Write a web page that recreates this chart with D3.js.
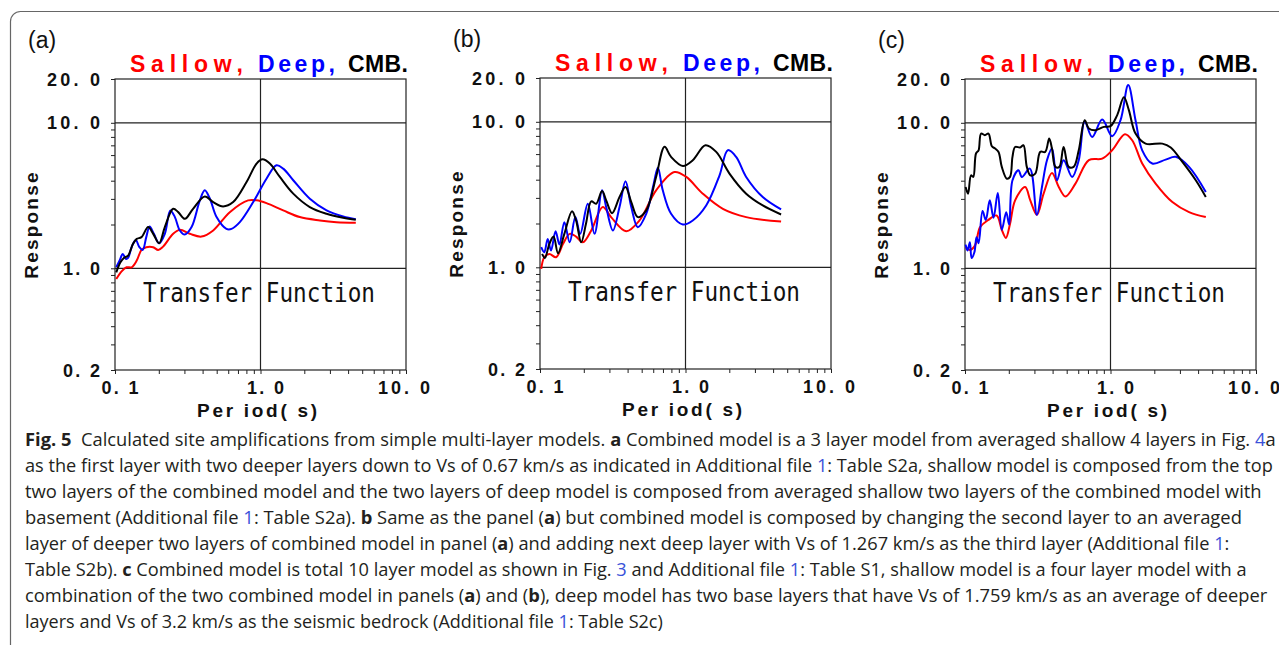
<!DOCTYPE html>
<html>
<head>
<meta charset="utf-8">
<script src="https://cdn.jsdelivr.net/npm/d3@7"></script>
<style>
  body { margin: 0; background: #fff; }
  svg { display: block; }
</style>
</head>
<body>
<svg id="chart" width="1279" height="645"></svg>
<script>
// ---- data (period in s, response ratio) ----
// panel (a)
var aShallowPeriod = [0.102,0.111,0.120,0.130,0.141,0.152,0.164,0.183,0.198,0.214,0.251,0.279,0.327,0.393,0.473,0.615,0.822,0.940,1.099,1.432,1.862,2.559,3.327,4.519];
var aShallowResp   = [0.843,0.953,1.016,1.016,1.130,1.337,1.396,1.396,1.337,1.409,1.726,1.837,1.726,1.652,1.820,2.432,2.931,2.931,2.805,2.500,2.249,2.133,2.075,2.056];
var aDeepPeriod = [0.102,0.108,0.113,0.119,0.123,0.130,0.139,0.147,0.155,0.164,0.173,0.185,0.201,0.220,0.240,0.258,0.279,0.302,0.336,0.383,0.414,0.449,0.499,0.583,0.632,0.721,0.891,1.099,1.288,1.432,1.679,2.183,2.844,3.698,4.519];
var aDeepResp   = [1.016,1.140,1.256,1.159,1.178,1.396,1.567,1.396,1.337,1.637,1.936,1.726,1.486,1.726,2.500,2.249,1.820,1.706,1.919,2.931,3.436,3.006,2.249,1.866,1.866,2.075,2.851,4.130,5.105,4.842,4.027,3.006,2.500,2.270,2.178];
var aCmbPeriod = [0.102,0.109,0.115,0.123,0.133,0.141,0.152,0.169,0.183,0.201,0.220,0.251,0.272,0.302,0.344,0.414,0.473,0.553,0.649,0.802,0.940,1.033,1.159,1.358,1.679,2.183,2.844,3.698,4.519];
var aCmbResp   = [0.938,1.099,1.178,1.222,1.472,1.592,1.637,1.919,1.726,1.486,1.919,2.564,2.432,2.188,2.564,3.119,2.851,2.661,2.851,3.917,5.248,5.610,5.248,4.246,3.258,2.636,2.371,2.223,2.153];

// panel (b)
var bShallowPeriod = [0.102,0.107,0.116,0.129,0.144,0.160,0.177,0.197,0.225,0.270,0.308,0.391,0.483,0.628,0.839,1.012,1.315,1.807,2.612,4.539];
var bShallowResp   = [0.975,1.172,1.236,1.172,1.449,1.698,1.626,1.486,1.791,2.594,2.213,1.770,2.099,3.381,4.519,4.178,3.206,2.523,2.213,2.065];
var bDeepPeriod = [0.102,0.107,0.113,0.119,0.128,0.136,0.147,0.160,0.175,0.189,0.213,0.237,0.267,0.285,0.317,0.352,0.387,0.424,0.470,0.537,0.605,0.646,0.698,0.796,0.959,1.122,1.387,1.714,1.954,2.228,2.612,3.396,4.539];
var bDeepResp   = [1.374,1.268,1.567,1.303,1.770,1.432,2.042,1.486,2.213,1.698,2.735,1.698,3.381,2.594,1.791,2.594,3.899,2.594,1.888,2.333,3.758,4.842,3.381,2.333,1.968,2.099,2.661,4.285,6.383,5.741,4.178,3.041,2.500];
var bCmbPeriod = [0.1035,0.108,0.116,0.124,0.133,0.147,0.166,0.177,0.192,0.207,0.225,0.243,0.267,0.285,0.313,0.352,0.387,0.424,0.470,0.537,0.628,0.718,0.796,0.959,1.122,1.371,1.626,2.005,2.612,3.396,4.539];
var bCmbResp   = [1.236,1.159,1.449,1.626,1.250,1.698,2.432,2.099,1.486,1.991,2.838,2.735,3.342,2.884,2.355,3.041,3.565,2.805,2.213,2.460,4.178,6.730,5.741,4.977,5.445,6.902,6.209,4.406,3.206,2.661,2.307];

// panel (c)
var cShallowPeriod = [0.101,0.108,0.117,0.127,0.145,0.165,0.179,0.191,0.204,0.221,0.259,0.281,0.312,0.347,0.396,0.441,0.490,0.574,0.710,0.877,1.026,1.256,1.409,1.652,2.042,2.661,3.467,4.519];
var cShallowResp   = [1.396,1.337,1.432,1.919,2.153,2.307,1.837,1.618,2.023,2.931,3.622,2.931,2.333,3.258,4.519,3.622,3.119,3.819,5.534,5.675,6.471,8.356,7.586,5.248,3.819,2.851,2.432,2.249];
var cDeepPeriod = [0.101,0.104,0.108,0.111,0.116,0.120,0.124,0.132,0.139,0.148,0.157,0.168,0.179,0.192,0.201,0.212,0.233,0.246,0.279,0.312,0.338,0.366,0.396,0.429,0.476,0.545,0.605,0.665,0.748,0.877,1.026,1.172,1.324,1.486,1.652,1.936,2.393,2.805,3.467,4.519];
var cDeepResp   = [1.455,1.324,1.510,1.178,1.288,1.637,1.486,2.472,2.153,2.931,2.223,3.289,1.837,2.432,2.000,4.027,4.721,4.246,4.842,2.333,3.622,5.534,6.653,4.027,5.534,4.246,5.534,10.16,7.998,10.54,8.091,10.42,18.20,10.42,6.471,5.248,5.585,5.834,4.977,3.342];
var cCmbPeriod = [0.101,0.105,0.110,0.114,0.119,0.124,0.129,0.137,0.145,0.153,0.161,0.170,0.179,0.194,0.204,0.212,0.221,0.239,0.252,0.266,0.281,0.304,0.329,0.356,0.379,0.396,0.418,0.445,0.476,0.516,0.558,0.605,0.665,0.710,0.789,0.900,1.000,1.112,1.236,1.337,1.486,1.742,2.270,2.594,3.119,3.855,4.519];
var cCmbResp   = [3.622,3.258,4.355,4.246,6.152,6.471,8.433,8.222,8.433,6.902,6.653,6.310,4.977,4.130,4.246,5.834,6.823,6.761,7.015,4.977,4.355,4.477,6.310,6.310,7.798,6.653,4.977,4.977,6.823,4.977,4.977,6.471,10.42,9.141,8.892,9.376,9.484,11.30,14.96,12.22,8.433,7.194,7.194,6.761,5.383,4.027,3.090];

// axis ticks and labels
var xTicks = [0.1,0.2,0.3,0.4,0.5,0.6,0.7,0.8,0.9,1,2,3,4,5,6,7,8,9,10];
var yTicks = [0.2,0.3,0.4,0.5,0.6,0.7,0.8,0.9,1,2,3,4,5,6,7,8,9,10,20];
var xLabelVals = [0.1, 1, 10], xLabelText = ["0. 1", "1. 0", "10. 0"];
var yLabelVals = [20, 10, 1, 0.2], yLabelText = ["20. 0", "10. 0", "1. 0", "0. 2"];

var panels = [
  { tag: "(a)", x0: 115, top: 79, lines: [[aShallowPeriod, aShallowResp, "#ff0000"], [aDeepPeriod, aDeepResp, "#0000ff"], [aCmbPeriod, aCmbResp, "#000"]] },
  { tag: "(b)", x0: 540, top: 78, lines: [[bShallowPeriod, bShallowResp, "#ff0000"], [bDeepPeriod, bDeepResp, "#0000ff"], [bCmbPeriod, bCmbResp, "#000"]] },
  { tag: "(c)", x0: 965, top: 79, lines: [[cShallowPeriod, cShallowResp, "#ff0000"], [cDeepPeriod, cDeepResp, "#0000ff"], [cCmbPeriod, cCmbResp, "#000"]] }
];

var size = 291;
var svg = d3.select("#chart");

// outer frame of the figure
svg.append("rect")
  .attr("x", 10.5).attr("y", 11.5)
  .attr("width", 1300).attr("height", 700)
  .attr("rx", 10)
  .attr("fill", "none").attr("stroke", "#666").attr("stroke-width", 1.2);

var sans = "'Liberation Sans', Arial, sans-serif";

panels.forEach(function (p) {
  var x = d3.scaleLog().domain([0.1, 10]).range([p.x0, p.x0 + size]);
  var y = d3.scaleLog().domain([0.2, 20]).range([p.top + size, p.top]);
  var g = svg.append("g");

  // ticks (outside, no domain line)
  g.append("g").attr("transform", "translate(0," + (p.top + size) + ")")
    .call(d3.axisBottom(x).tickValues(xTicks).tickSize(4).tickFormat(""))
    .call(function (a) { a.select(".domain").remove(); a.selectAll("line").attr("stroke", "#222"); });
  g.append("g").attr("transform", "translate(" + p.x0 + ",0)")
    .call(d3.axisLeft(y).tickValues(yTicks).tickSize(4).tickFormat(""))
    .call(function (a) { a.select(".domain").remove(); a.selectAll("line").attr("stroke", "#222"); });

  // grid lines
  [1, 10].forEach(function (v) {
    g.append("line").attr("x1", p.x0).attr("x2", p.x0 + size)
      .attr("y1", y(v)).attr("y2", y(v)).attr("stroke", "#222").attr("stroke-width", 1.2);
  });
  g.append("line").attr("x1", x(1)).attr("x2", x(1))
    .attr("y1", p.top).attr("y2", p.top + size).attr("stroke", "#222").attr("stroke-width", 1.2);

  // frame
  g.append("rect").attr("x", p.x0).attr("y", p.top).attr("width", size).attr("height", size)
    .attr("fill", "none").attr("stroke", "#222").attr("stroke-width", 1.2);

  // tick labels (spaced out like the original plotting package)
  xLabelVals.forEach(function (v, i) {
    var extra = xLabelText[i].length - 4;
    g.append("text").attr("x", x(v) - 13.5 - extra * 14.5).attr("y", p.top + size + 24)
      .style("white-space", "pre")
      .attr("font-family", sans).attr("font-weight", "bold").attr("font-size", 18)
      .attr("textLength", 37 + extra * 15).attr("lengthAdjust", "spacing")
      .attr("fill", "#111").text(xLabelText[i]);
  });
  yLabelVals.forEach(function (v, i) {
    var extra = yLabelText[i].length - 4;
    g.append("text").attr("x", p.x0 - 15).attr("y", y(v) + 6.5)
      .attr("text-anchor", "end").style("white-space", "pre")
      .attr("font-family", sans).attr("font-weight", "bold").attr("font-size", 18)
      .attr("textLength", 37 + extra * 16).attr("lengthAdjust", "spacing")
      .attr("fill", "#111").text(yLabelText[i]);
  });

  // axis titles
  g.append("text").attr("x", p.x0 + 82).attr("y", p.top + size + 47)
    .attr("font-family", sans).attr("font-weight", "bold").attr("font-size", 19)
    .attr("textLength", 120).attr("lengthAdjust", "spacing").style("white-space", "pre")
    .attr("fill", "#111").text("Per iod( s)");
  g.append("text")
    .attr("transform", "translate(" + (p.x0 - 77) + "," + (p.top + size / 2) + ") rotate(-90)")
    .attr("text-anchor", "middle")
    .attr("font-family", sans).attr("font-weight", "bold").attr("font-size", 19)
    .attr("letter-spacing", 2.2)
    .attr("fill", "#111").text("Response");

  // panel tag
  g.append("text").attr("x", p.x0 - 87).attr("y", p.top - 31)
    .attr("font-family", sans).attr("font-size", 23).attr("fill", "#111").text(p.tag);

  // legend title
  var leg = [["Sallow,", "#ff0000", 15, 113], ["Deep,", "#0000ff", 143, 77], ["CMB.", "#000", 233, 60]];
  leg.forEach(function (l) {
    g.append("text").attr("x", p.x0 + l[2]).attr("y", p.top - 7)
      .attr("font-family", sans).attr("font-weight", "bold").attr("font-size", 23)
      .attr("textLength", l[3]).attr("lengthAdjust", "spacing")
      .attr("fill", l[1]).text(l[0]);
  });

  // "Transfer Function"
  g.append("text").attr("x", p.x0 + 28).attr("y", y(1) + 34)
    .attr("font-family", "'DejaVu Sans Mono', monospace").attr("font-size", 26)
    .attr("textLength", 232).attr("lengthAdjust", "spacingAndGlyphs")
    .attr("fill", "#111").text("Transfer Function");

  // curves
  var line = d3.line()
    .x(function (d) { return x(d[0]); })
    .y(function (d) { return y(d[1]); })
    .curve(d3.curveCatmullRom.alpha(0.5));
  p.lines.forEach(function (s) {
    var pts = s[0].map(function (t, i) { return [t, s[1][i]]; });
    g.append("path").datum(pts).attr("d", line)
      .attr("fill", "none").attr("stroke", s[2]).attr("stroke-width", 2);
  });
});

// ---- caption ----
var capLines = [
  [["Fig. 5", "b"], ["  Calculated site amplifications from simple multi-layer models. ", ""], ["a", "b"], [" Combined model is a 3 layer model from averaged shallow 4 layers in Fig. ", ""], ["4", "l"], ["a", ""]],
  [["as the first layer with two deeper layers down to Vs of 0.67 km/s as indicated in Additional file ", ""], ["1", "l"], [": Table S2a, shallow model is composed from the top", ""]],
  [["two layers of the combined model and the two layers of deep model is composed from averaged shallow two layers of the combined model with", ""]],
  [["basement (Additional file ", ""], ["1", "l"], [": Table S2a). ", ""], ["b", "b"], [" Same as the panel (", ""], ["a", "b"], [") but combined model is composed by changing the second layer to an averaged", ""]],
  [["layer of deeper two layers of combined model in panel (", ""], ["a", "b"], [") and adding next deep layer with Vs of 1.267 km/s as the third layer (Additional file ", ""], ["1", "l"], [":", ""]],
  [["Table S2b). ", ""], ["c", "b"], [" Combined model is total 10 layer model as shown in Fig. ", ""], ["3", "l"], [" and Additional file ", ""], ["1", "l"], [": Table S1, shallow model is a four layer model with a", ""]],
  [["combination of the two combined model in panels (", ""], ["a", "b"], [") and (", ""], ["b", "b"], ["), deep model has two base layers that have Vs of 1.759 km/s as an average of deeper", ""]],
  [["layers and Vs of 3.2 km/s as the seismic bedrock (Additional file ", ""], ["1", "l"], [": Table S2c)", ""]]
];
var capEnds = [1276, 1274, 1262, 1243, 1230, 1247, 1268, 663];
var capLeft = 25, capTop = 446, capStep = 26;

capLines.forEach(function (segs, i) {
  var t = svg.append("text").attr("x", 0).attr("y", 0)
    .attr("font-family", "'Open Sans', 'Noto Sans', sans-serif").attr("font-size", 17.5)
    .attr("fill", "#231f20").style("white-space", "pre");
  segs.forEach(function (s) {
    var ts = t.append("tspan").text(s[0]);
    if (s[1] === "b") ts.attr("font-weight", "bold");
    if (s[1] === "l") ts.attr("fill", "#3a52d9");
  });
  var w = t.node().getComputedTextLength();
  var sx = (capEnds[i] - capLeft) / w;
  t.attr("transform", "translate(" + capLeft + "," + (capTop + i * capStep) + ") scale(" + sx + ",1)");
});
</script>
</body>
</html>
